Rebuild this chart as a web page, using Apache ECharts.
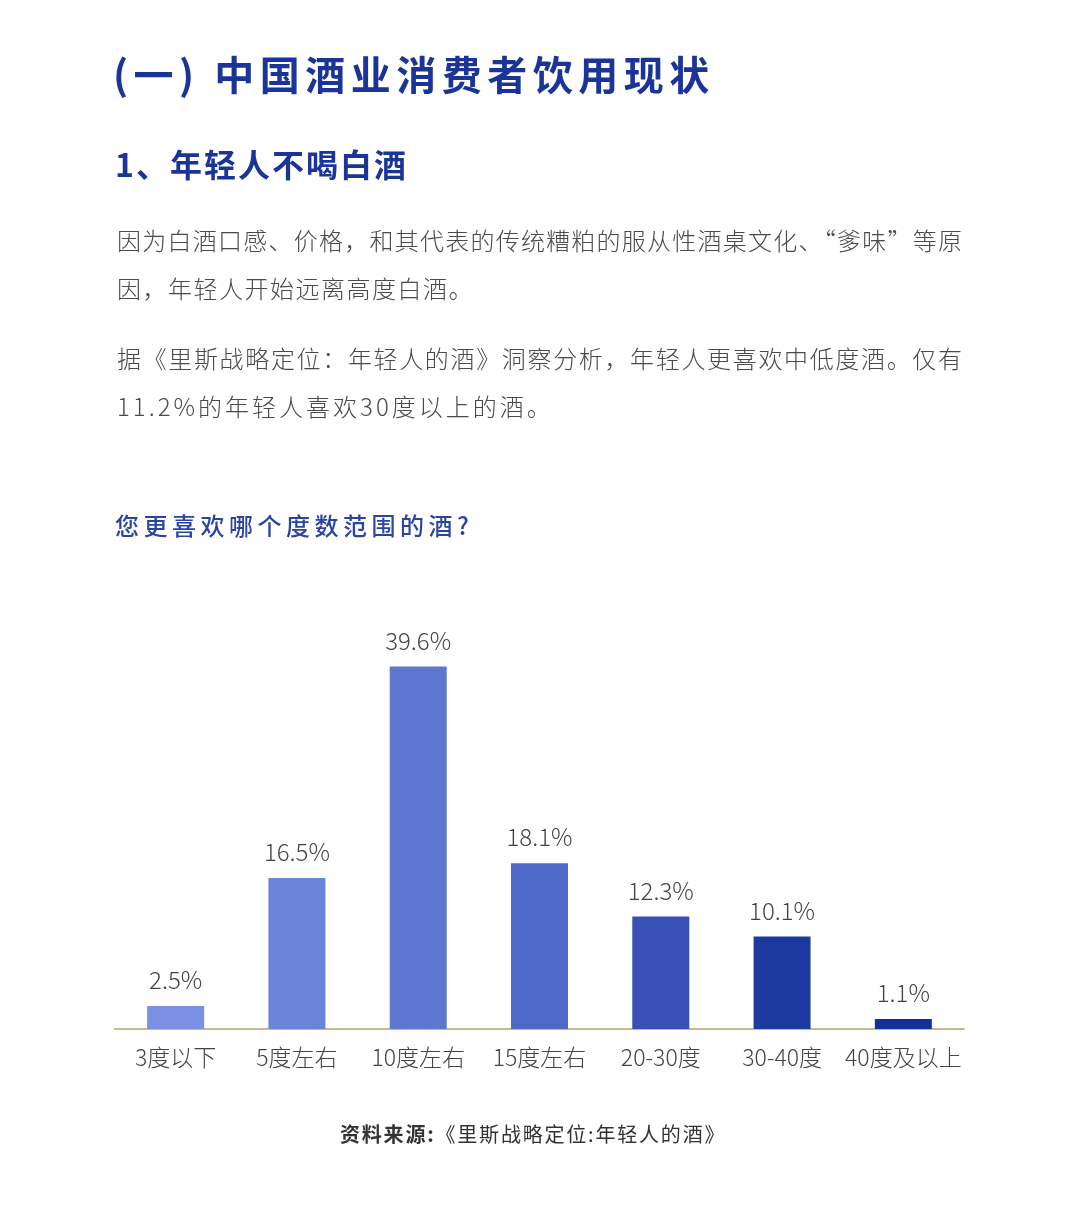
<!DOCTYPE html>
<html>
<head>
<meta charset="utf-8">
<script src="https://cdn.jsdelivr.net/npm/echarts@6/dist/echarts.min.js"></script>
<style>
  html, body { margin: 0; padding: 0; background: #fff; }
  body { width: 1080px; height: 1217px; position: relative; overflow: hidden;
         font-family: "Noto Sans CJK SC", "Noto Sans", sans-serif; }
  #chart { position: absolute; left: 0; top: 0; width: 1080px; height: 1217px; }
  .txt { position: absolute; white-space: nowrap; z-index: 2; }
  .h1 { left: 113px; top: 48px; font-size: 40px; font-weight: 700; color: #1a3597; letter-spacing: 5.5px; line-height: 50px; }
  .h2 { left: 115px; top: 143px; font-size: 32px; font-weight: 700; color: #1a3597; letter-spacing: 2px; line-height: 40px; }
  .p { left: 117px; width: 845px; font-size: 24px; font-weight: 300; color: #4a4a4a; line-height: 48px; letter-spacing: 1.5px; }
  .p span { display: block; }
  .p .full { text-align: justify; text-align-last: justify; letter-spacing: 0; }
  .p .num { letter-spacing: 3px; }
  .ct { left: 115px; top: 507px; font-size: 24px; font-weight: 500; color: #2a44a6; letter-spacing: 4.5px; line-height: 36px; }
  .src { left: 340px; top: 1120px; font-size: 20px; color: #333; line-height: 28px; letter-spacing: 1.8px; }
  .src b { font-weight: 700; }
</style>
</head>
<body>
<div id="chart"></div>
<div class="txt h1">(一) 中国酒业消费者饮用现状</div>
<div class="txt h2">1、年轻人不喝白酒</div>
<div class="txt p" style="top:216px">
  <span class="full">因为白酒口感、价格，和其代表的传统糟粕的服从性酒桌文化、“爹味”等原</span>
  <span>因，年轻人开始远离高度白酒。</span>
</div>
<div class="txt p" style="top:334px">
  <span class="full">据《里斯战略定位：年轻人的酒》洞察分析，年轻人更喜欢中低度酒。仅有</span>
  <span class="num">11.2%的年轻人喜欢30度以上的酒。</span>
</div>
<div class="txt ct">您更喜欢哪个度数范围的酒?</div>
<div class="txt src"><b>资料来源:</b>《里斯战略定位:年轻人的酒》</div>
<script>
var categories = ['3度以下', '5度左右', '10度左右', '15度左右', '20-30度', '30-40度', '40度及以上'];
var values = [2.5, 16.5, 39.6, 18.1, 12.3, 10.1, 1.1];
var palette = ['#7b8fe3', '#6a84dc', '#5e77d1', '#4f69c9', '#3951b7', '#1d3aa0', '#153099'];

(function() {
  var myChart = echarts.init(document.getElementById('chart'));
  var option = {
    animation: false,
    grid: {
      left: 115,
      right: 116,
      top: 617,
      bottom: 188
    },
    xAxis: {
      type: 'category',
      data: categories,
      axisTick: { show: false },
      axisLine: {
        lineStyle: { color: '#c8b98c', width: 2 }
      },
      axisLabel: {
        interval: 0,
        color: '#444',
        fontSize: 23,
        fontWeight: 300,
        margin: 17,
        fontFamily: 'Noto Sans CJK SC'
      }
    },
    yAxis: {
      type: 'value',
      min: 0,
      max: 45,
      show: false
    },
    series: [{
      type: 'bar',
      barWidth: 57,
      data: values.map(function(v, i) {
        return { value: v, itemStyle: { color: palette[i] } };
      }),
      label: {
        show: true,
        position: 'top',
        distance: 14,
        color: '#444',
        fontSize: 24,
        fontWeight: 300,
        fontFamily: 'Noto Sans CJK SC',
        formatter: function(p) { return p.value.toFixed(1) + '%'; }
      }
    }]
  };
  myChart.setOption(option);
  window.addEventListener('resize', function() {
    myChart.resize();
  });
})();
</script>
</body>
</html>
